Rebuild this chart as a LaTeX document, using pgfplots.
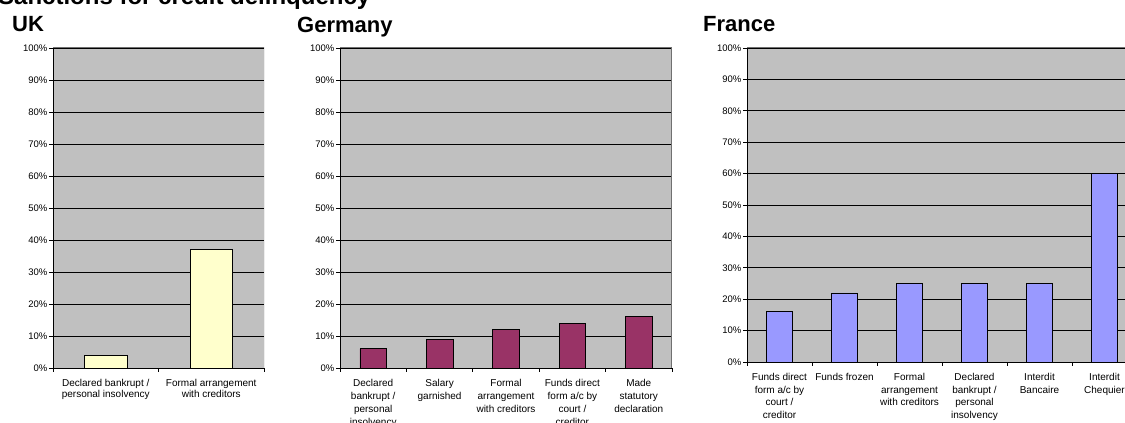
\documentclass[border=0pt]{standalone}
\usepackage{fontspec}
\setmainfont{Liberation Sans}
\usepackage{pgfplots}
\pgfplotsset{compat=1.18}
\definecolor{plotbg}{HTML}{C0C0C0}
\definecolor{ukbar}{HTML}{FFFFCC}
\definecolor{debar}{HTML}{993366}
\definecolor{frbar}{HTML}{9999FF}
\definecolor{bord}{HTML}{707070}
\pgfplotsset{
  panel/.style={
    scale only axis,
    ybar,
    bar width=0.4,
    ymin=0, ymax=100,
    enlargelimits=false,
    axis x line*=bottom,
    axis y line*=left,
    axis line style={black, line width=0.8pt},
    tick align=outside,
    major tick length=4pt,
    tick style={black, line width=0.8pt},
    ytick={0,10,...,100},
    yticklabel={\pgfmathprintnumber{\tick}\%},
    /pgf/number format/assume math mode=true,
    yticklabel style={font=\fontsize{9.5}{10}\selectfont, inner sep=1.5pt},
    ymajorgrids,
    major grid style={black, line width=0.7pt},
    axis background/.style={fill=plotbg},
    xticklabels={},
    extra x tick style={major tick length=0pt, tick style={draw=none},
      xticklabel style={font=\fontsize{10}{#1}\selectfont, align=center, anchor=north, yshift=-8pt}},
    every axis plot/.append style={draw=black, line width=0.7pt},
  },
}
\begin{document}
\begin{tikzpicture}[x=1pt,y=1pt]
\useasboundingbox (0pt,0pt) rectangle (1125pt,423pt);
\clip (0pt,0pt) rectangle (1125pt,423pt);
\node[anchor=base west, font=\fontsize{24}{28}\selectfont\bfseries, inner sep=0pt] at (-2pt,418pt) {Sanctions for credit delinquency};
\node[anchor=base west, font=\fontsize{22}{26}\selectfont\bfseries, inner sep=0pt] at (12pt,391pt) {UK};
\node[anchor=base west, font=\fontsize{22}{26}\selectfont\bfseries, inner sep=0pt] at (297pt,390pt) {Germany};
\node[anchor=base west, font=\fontsize{22}{26}\selectfont\bfseries, inner sep=0pt] at (703pt,391pt) {France};

% UK
\begin{axis}[panel=11pt, at={(53pt,55pt)}, anchor=south west, width=211pt, height=320pt,
  xmin=-0.5, xmax=1.5, xtick={-0.5,0.5,1.5},
  extra x ticks={0,1},
  extra x tick labels={{Declared bankrupt /\\personal insolvency},{Formal arrangement\\with creditors}}]
\addplot[fill=ukbar] coordinates {(0,4) (1,37)};
\draw[bord, line width=1pt] (rel axis cs:0,1) -- (rel axis cs:1,1) -- (rel axis cs:1,0);
\end{axis}

% Germany
\begin{axis}[panel=12.8pt, at={(340pt,55pt)}, anchor=south west, width=332pt, height=320pt,
  xmin=-0.5, xmax=4.5, xtick={-0.5,0.5,...,4.5},
  extra x ticks={0,1,2,3,4},
  extra x tick labels={{Declared\\bankrupt /\\personal\\insolvency},{Salary\\garnished},{Formal\\arrangement\\with creditors},{Funds direct\\form a/c by\\court /\\creditor},{Made\\statutory\\declaration}}]
\addplot[fill=debar] coordinates {(0,6) (1,9) (2,12) (3,14) (4,16)};
\draw[bord, line width=1pt] (rel axis cs:0,1) -- (rel axis cs:1,1) -- (rel axis cs:1,0);
\end{axis}

% France
\begin{axis}[panel=12.6pt, at={(747pt,61pt)}, anchor=south west, width=390pt, height=314pt,
  xmin=-0.5, xmax=5.5, xtick={-0.5,0.5,...,5.5},
  extra x ticks={0,1,2,3,4,5},
  extra x tick labels={{Funds direct\\form a/c by\\court /\\creditor},{Funds frozen},{Formal\\arrangement\\with creditors},{Declared\\bankrupt /\\personal\\insolvency},{Interdit\\Bancaire},{Interdit\\Chequier}}]
\addplot[fill=frbar] coordinates {(0,16) (1,22) (2,25) (3,25) (4,25) (5,60)};
\draw[bord, line width=1pt] (rel axis cs:0,1) -- (rel axis cs:1,1) -- (rel axis cs:1,0);
\end{axis}
\end{tikzpicture}
\end{document}
